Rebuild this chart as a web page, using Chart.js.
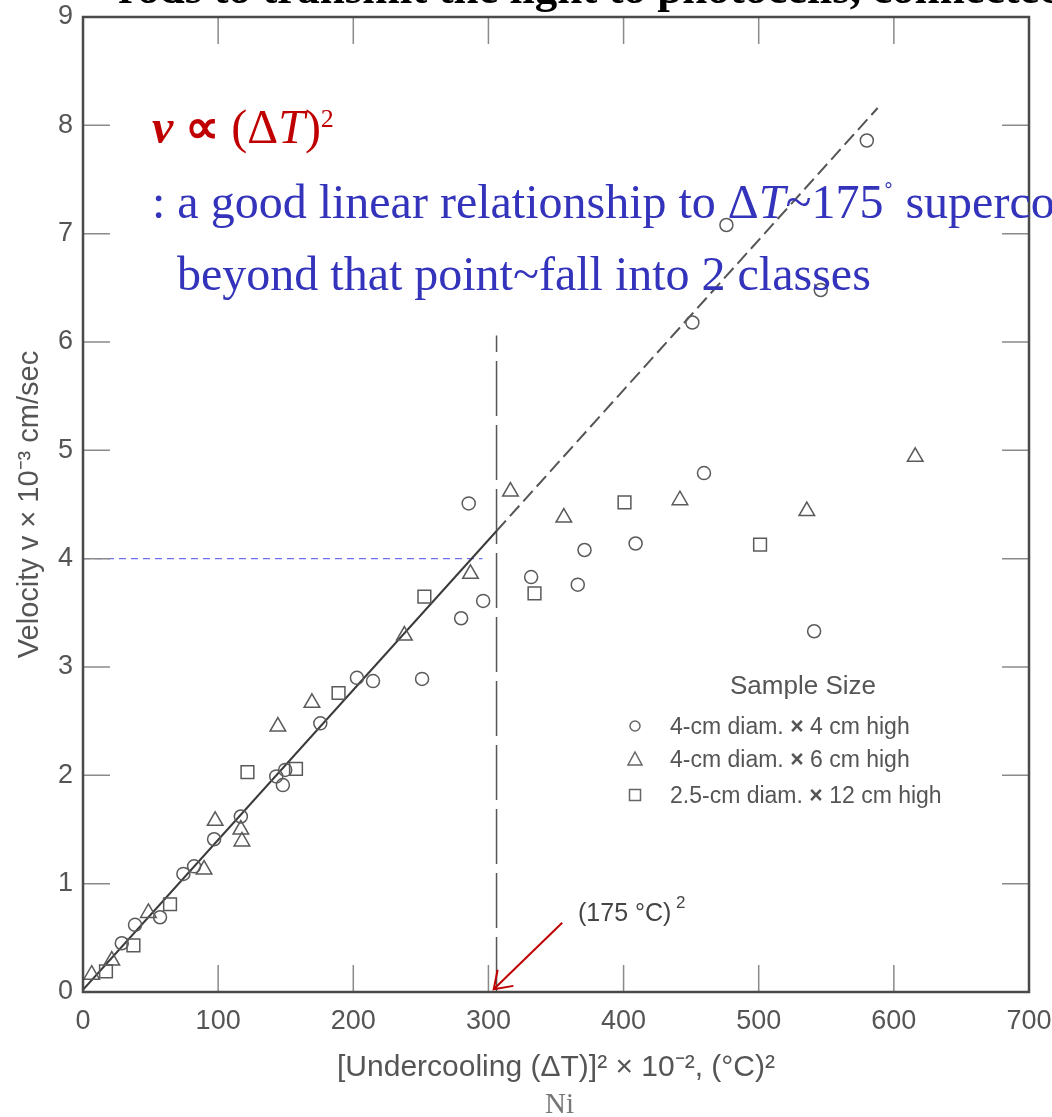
<!DOCTYPE html>
<html>
<head>
<meta charset="utf-8">
<script src="https://cdn.jsdelivr.net/npm/chart.js@4.4.1/dist/chart.umd.min.js"></script>
<style>
  body { margin: 0; background: #fff; overflow: hidden; }
  #wrap { position: relative; width: 1052px; height: 1117px; overflow: hidden; }
  #myChart { position: absolute; left: 0; top: 0; }
  .txt { position: absolute; white-space: nowrap; line-height: 1; }
  .serif { font-family: 'Liberation Serif', 'Times New Roman', serif; }
  .sans { font-family: 'Liberation Sans', Arial, sans-serif; }
  .sym { position: absolute; }
</style>
</head>
<body>
<div id="wrap">
  <canvas id="myChart" width="1052" height="1117"></canvas>

  <div class="txt serif" style="left:118px; top:-34px; font-size:45px; font-weight:bold; color:#000;">rods to transmit the light to photocells, connected</div>

  <div class="txt serif" style="left:152px; top:103px; font-size:48px; color:#c00000;"><b><i>v</i></b> <b>∝</b> (Δ<i>T</i>)<span style="font-size:26px; vertical-align:16px;">2</span></div>
  <div class="txt serif" style="left:152px; top:178px; font-size:48px; color:#3333bb;">: a good linear relationship to Δ<i>T</i>~175<span style="font-size:30px; vertical-align:14px;">˚</span> supercooling</div>
  <div class="txt serif" style="left:177px; top:250px; font-size:48px; color:#3333bb;">beyond that point~fall into 2 classes</div>

  <div class="txt sans" style="left:730px; top:672px; font-size:26px; color:#555;">Sample Size</div>
  <svg class="sym" style="left:627px; top:718px;" width="16" height="16"><circle cx="8" cy="8" r="5" fill="none" stroke="#666" stroke-width="1.5"/></svg>
  <div class="txt sans" style="left:670px; top:715px; font-size:23px; color:#555;">4-cm diam. <b>×</b> 4 cm high</div>
  <svg class="sym" style="left:626px; top:750px;" width="18" height="18"><polygon points="9,2 16,15 2,15" fill="none" stroke="#666" stroke-width="1.5"/></svg>
  <div class="txt sans" style="left:670px; top:748px; font-size:23px; color:#555;">4-cm diam. <b>×</b> 6 cm high</div>
  <svg class="sym" style="left:627px; top:787px;" width="16" height="16"><rect x="2.5" y="2.5" width="11" height="11" fill="none" stroke="#666" stroke-width="1.5"/></svg>
  <div class="txt sans" style="left:670px; top:784px; font-size:23px; color:#555;">2.5-cm diam. <b>×</b> 12 cm high</div>

  <div class="txt sans" style="left:578px; top:894px; font-size:25px; color:#444;">(175 °C)<span style="font-size:17px; vertical-align:13px;"> 2</span></div>

  <div class="txt serif" style="left:545px; top:1089px; font-size:29px; color:#777;">Ni</div>
</div>

<script>
// sample 4 cm x 4 cm (circles)
const circleX = [28.7, 38.5, 57.0, 74.3, 82.2, 97.0, 116.8, 143.0, 149.6, 147.9, 175.6, 202.7, 214.6, 250.9,
  279.8, 296.1, 285.4, 331.6, 366.1, 371.1, 408.9, 459.5, 541.0, 450.9, 476.1, 545.9, 580.0];
const circleY = [0.45, 0.62, 0.69, 1.09, 1.16, 1.41, 1.62, 1.99, 2.05, 1.91, 2.48, 2.90, 2.87, 2.89,
  3.45, 3.61, 4.51, 3.83, 3.76, 4.08, 4.14, 4.79, 3.33, 6.18, 7.08, 6.48, 7.86];

// sample 4 cm x 6 cm (triangles)
const triX = [6.4, 21.3, 48.4, 89.6, 97.8, 116.8, 117.6, 144.2, 169.4, 237.8, 286.7, 316.3, 355.8, 441.7, 535.6, 615.8];
const triY = [0.16, 0.29, 0.73, 1.13, 1.58, 1.50, 1.39, 2.45, 2.67, 3.29, 3.86, 4.62, 4.38, 4.54, 4.44, 4.94];

// sample 2.5 cm x 12 cm (squares)
const squareX = [17.0, 37.3, 64.4, 121.7, 157.6, 189.1, 252.6, 334.1, 400.7, 501.0];
const squareY = [0.19, 0.43, 0.81, 2.03, 2.06, 2.76, 3.65, 3.68, 4.52, 4.13];

// fitted line, solid part then dashed extrapolation
const fitSolidX = [0, 306];
const fitSolidY = [0.02, 4.255];
const fitDashX = [306, 588];
const fitDashY = [4.255, 8.16];

// (175 C)^2 marker line and the v = 4 guide
const markX = [306, 306];
const markY = [0, 6.06];
const guideX = [0, 295.6];
const guideY = [4, 4];

// red arrow: from, to
const arrowX = [354.6, 303.9];
const arrowY = [0.64, 0.025];

const xTicks = [0, 100, 200, 300, 400, 500, 600, 700];
const yTicks = [0, 1, 2, 3, 4, 5, 6, 7, 8, 9];

function zip(xs, ys) {
  return xs.map((x, i) => ({ x: x, y: ys[i] }));
}

const sansFamily = "'Liberation Sans', Arial, sans-serif";
const tickFont = { family: sansFamily, size: 27 };
const grey = '#555';

function pointSet(label, xs, ys, style, r) {
  return {
    label: label,
    data: zip(xs, ys),
    pointStyle: style,
    pointRadius: r,
    pointBorderWidth: 1.5,
    pointBorderColor: '#5a5a5a',
    pointBackgroundColor: 'rgba(0,0,0,0)',
    showLine: false,
  };
}

function lineSet(xs, ys, color, width, dash) {
  return {
    data: zip(xs, ys),
    showLine: true,
    borderColor: color,
    borderWidth: width,
    borderDash: dash,
    pointRadius: 0,
    fill: false,
  };
}

// frame, inward ticks and the red arrow
const framePlugin = {
  id: 'frame',
  afterDatasetsDraw(chart) {
    const ctx = chart.ctx;
    const a = chart.chartArea;
    const sx = chart.scales.x;
    const sy = chart.scales.y;
    ctx.save();
    ctx.strokeStyle = '#8a8a8a';
    ctx.lineWidth = 1.5;
    ctx.beginPath();
    xTicks.slice(1, -1).forEach((v) => {
      const px = sx.getPixelForValue(v);
      ctx.moveTo(px, a.bottom); ctx.lineTo(px, a.bottom - 27);
      ctx.moveTo(px, a.top); ctx.lineTo(px, a.top + 27);
    });
    yTicks.slice(1, -1).forEach((v) => {
      const py = sy.getPixelForValue(v);
      ctx.moveTo(a.left, py); ctx.lineTo(a.left + 27, py);
      ctx.moveTo(a.right, py); ctx.lineTo(a.right - 27, py);
    });
    ctx.stroke();

    ctx.strokeStyle = '#4a4a4a';
    ctx.lineWidth = 2.5;
    ctx.strokeRect(a.left, a.top, a.right - a.left, a.bottom - a.top);

    const x0 = sx.getPixelForValue(arrowX[0]), y0 = sy.getPixelForValue(arrowY[0]);
    const x1 = sx.getPixelForValue(arrowX[1]), y1 = sy.getPixelForValue(arrowY[1]);
    const ang = Math.atan2(y0 - y1, x0 - x1);
    ctx.strokeStyle = '#c00000';
    ctx.lineWidth = 2;
    ctx.beginPath();
    ctx.moveTo(x0, y0); ctx.lineTo(x1, y1);
    ctx.moveTo(x1 + 20 * Math.cos(ang - 0.6), y1 + 20 * Math.sin(ang - 0.6));
    ctx.lineTo(x1, y1);
    ctx.lineTo(x1 + 20 * Math.cos(ang + 0.6), y1 + 20 * Math.sin(ang + 0.6));
    ctx.stroke();
    ctx.restore();
  },
};

const chart = new Chart(document.getElementById('myChart'), {
  type: 'scatter',
  data: {
    datasets: [
      pointSet('4-cm diam. × 4 cm high', circleX, circleY, 'circle', 6.5),
      pointSet('4-cm diam. × 6 cm high', triX, triY, 'triangle', 9),
      pointSet('2.5-cm diam. × 12 cm high', squareX, squareY, 'rect', 9),
      lineSet(fitSolidX, fitSolidY, '#3a3a3a', 2, []),
      lineSet(fitDashX, fitDashY, '#555', 2, [14, 6]),
      lineSet(markX, markY, '#555', 1.5, [55, 9]),
      lineSet(guideX, guideY, '#7070ee', 1.3, [7, 5]),
    ],
  },
  options: {
    responsive: false,
    animation: false,
    layout: { padding: { top: 17, right: 23, left: 0, bottom: 0 } },
    plugins: {
      legend: { display: false },
      tooltip: { enabled: false },
    },
    scales: {
      x: {
        type: 'linear',
        min: 0,
        max: 700,
        afterBuildTicks: (s) => { s.ticks = xTicks.map((v) => ({ value: v })); },
        afterFit: (s) => {
          s.height = 125;
          s.paddingLeft = 0;
          s.paddingRight = 0;
        },
        grid: { display: false, drawTicks: false, tickLength: 0 },
        border: { display: false },
        ticks: { padding: 13, color: grey, font: tickFont, maxRotation: 0 },
        title: {
          display: true,
          text: '[Undercooling (ΔT)]² × 10⁻², (°C)²',
          color: grey,
          font: { family: sansFamily, size: 30 },
          padding: { top: 0, bottom: 31 },
        },
      },
      y: {
        type: 'linear',
        min: 0,
        max: 9,
        afterBuildTicks: (s) => { s.ticks = yTicks.map((v) => ({ value: v })); },
        afterFit: (s) => {
          s.width = 83;
          s.paddingTop = 0;
          s.paddingBottom = 0;
        },
        grid: { display: false, drawTicks: false, tickLength: 0 },
        border: { display: false },
        ticks: { padding: 10, color: grey, font: tickFont },
        title: {
          display: true,
          text: 'Velocity v × 10⁻³ cm/sec',
          color: grey,
          font: { family: sansFamily, size: 29 },
          padding: { top: 13, bottom: 0 },
        },
      },
    },
  },
  plugins: [framePlugin],
});
</script>
</body>
</html>
